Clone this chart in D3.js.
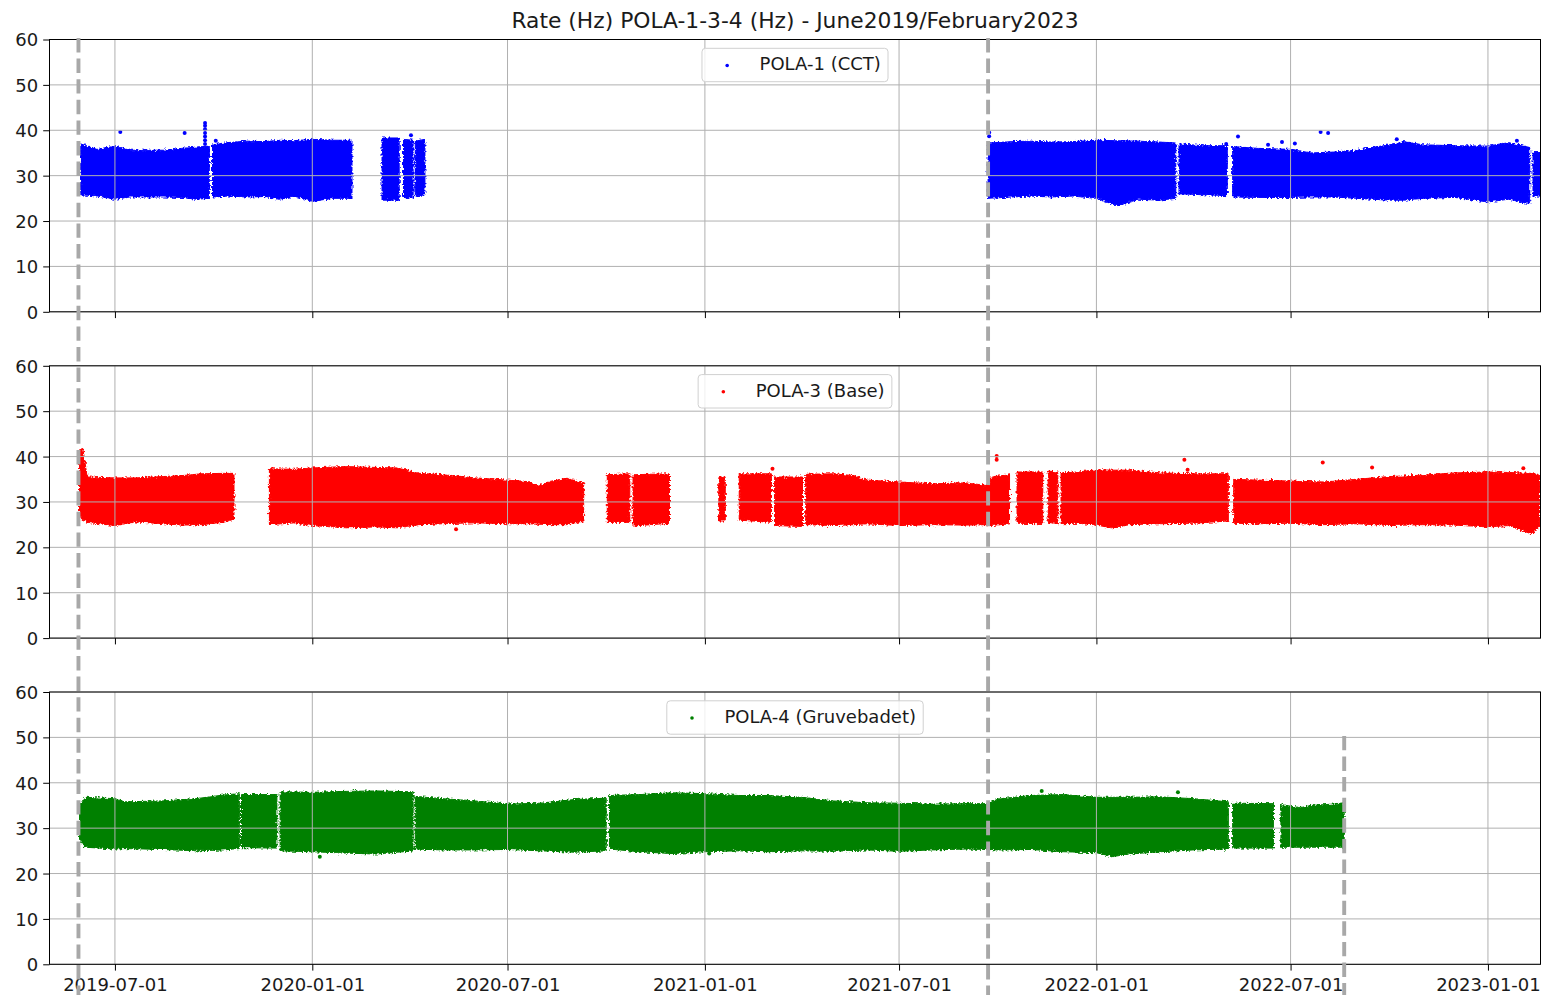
<!DOCTYPE html>
<html><head><meta charset="utf-8">
<script src="https://cdn.jsdelivr.net/npm/d3@7"></script>
<style>
body{margin:0;background:#fff}
svg{display:block;font-family:"DejaVu Sans",sans-serif}
</style>
</head><body>
<svg id="chart" width="1544" height="995"></svg>
<script>
// ---------------- DATA ----------------
const titleText = "Rate (Hz) POLA-1-3-4 (Hz) - June2019/February2023";
const xDomain = ["2019-05-01", "2023-02-19"];
const xTickLabels = ["2019-07-01","2020-01-01","2020-07-01","2021-01-01","2021-07-01","2022-01-01","2022-07-01","2023-01-01"];
const yTickLabels = [0, 10, 20, 30, 40, 50, 60];
const seriesNames = ["POLA-1 (CCT)", "POLA-3 (Base)", "POLA-4 (Gruvebadet)"];

// vertical marker dates (dashed lines)
const markerDates = ["2019-05-28", "2021-09-22", "2022-08-20"];
const markerTopPanel = [0, 0, 2];
const markerTopValue = [60, 60, 50];

// POLA-1 envelope of the dense scatter (null = no data)
const pola1Dates = ["2019-05-30","2019-06-15","2019-07-01","2019-07-15","2019-08-15","2019-09-01","2019-09-15","2019-09-27",
  "2019-09-28",
  "2019-09-30","2019-10-15","2019-11-01","2019-11-18","2019-12-01","2019-12-15","2020-01-01","2020-01-20","2020-02-07",
  "2020-02-20",
  "2020-03-06","2020-03-22",
  "2020-03-24",
  "2020-03-26","2020-04-04",
  "2020-04-05",
  "2020-04-06","2020-04-15",
  "2020-08-01",
  "2021-09-22","2021-10-15","2021-11-01","2021-11-20","2021-12-10","2022-01-01","2022-01-20","2022-02-10","2022-03-01","2022-03-16",
  "2022-03-17",
  "2022-03-19","2022-04-10","2022-05-03",
  "2022-05-05",
  "2022-05-08","2022-06-01","2022-07-01","2022-07-20","2022-08-10","2022-09-01","2022-09-15","2022-10-01","2022-10-15","2022-11-01","2022-12-01","2023-01-01","2023-01-20","2023-02-09",
  "2023-02-10",
  "2023-02-12","2023-02-19"];
const pola1High = [37,35.8,36.5,35.6,35.6,36,36.3,36.5, null,
  36.8,37.3,37.6,37.5,37.8,37.7,38,37.8,37.8, null,
  38.3,38.3, null, 38,37.8, null, 37.6,38, null,
  37.2,37.5,37.6,37.4,37.5,37.8,37.7,37.6,37.4,37.2, null,
  37,36.6,36.6, null,
  36.4,36,35.8,35,35.2,35.6,36.2,36.8,37.5,36.8,36.6,36.5,37.3,36.2, null,
  35.3,35.3];
const pola1Low = [25.8,25.5,24.8,25.3,25.3,25.2,24.8,25, null,
  25.3,25.5,25.3,25.4,24.8,25.5,24.3,25,25, null,
  24.6,24.6, null, 25.2,25, null, 25.4,25.8, null,
  25,25.3,25.5,25.3,25.5,25,23.4,24.8,24.6,25, null,
  26,25.8,25.6, null,
  25.3,25.2,25.2,25.3,25.3,25,24.8,24.6,24.6,25,25.2,24.2,24.8,23.8, null,
  25.5,25.5];
const pola1OutDates = ["2019-07-06","2019-09-04","2019-09-23","2019-09-23","2019-09-23","2019-09-23","2019-09-23","2019-09-23","2019-09-23","2019-10-03","2020-04-02",
  "2021-09-23","2021-09-23","2022-05-02","2022-05-13","2022-06-10","2022-06-23","2022-07-05","2022-07-29","2022-08-05","2022-10-08","2022-10-08","2023-01-28"];
const pola1OutValues = [39.6,39.4,37,37.8,38.6,39.4,40.2,41,41.6,37.7,38.9,
  39.5,38.7,37,38.6,36.8,37.4,37.1,39.6,39.4,38,36.6,37.7];

// POLA-3 envelope
const pola3Dates = ["2019-05-29","2019-06-01","2019-06-03","2019-06-05","2019-07-01","2019-07-20","2019-08-15","2019-09-01","2019-09-20","2019-10-10","2019-10-20",
  "2019-11-01",
  "2019-11-22","2019-12-15","2020-01-01","2020-02-01","2020-03-01","2020-03-20","2020-04-10","2020-05-01","2020-06-01","2020-07-01","2020-07-20","2020-07-30","2020-08-10","2020-08-25","2020-09-10",
  "2020-09-20",
  "2020-10-02","2020-10-23",
  "2020-10-24",
  "2020-10-26","2020-11-29",
  "2020-12-15",
  "2021-01-14","2021-01-20",
  "2021-01-25",
  "2021-02-02","2021-03-04",
  "2021-03-05",
  "2021-03-07","2021-04-02",
  "2021-04-03",
  "2021-04-05","2021-05-01","2021-05-20","2021-06-01","2021-07-01","2021-08-01","2021-09-01","2021-09-22","2021-09-25","2021-10-12",
  "2021-10-15",
  "2021-10-19","2021-11-12",
  "2021-11-15",
  "2021-11-17","2021-11-26",
  "2021-11-27",
  "2021-11-29","2021-12-15","2022-01-01","2022-01-15","2022-02-01","2022-03-01","2022-04-01","2022-05-04",
  "2022-05-06",
  "2022-05-09","2022-06-01","2022-07-01","2022-08-01","2022-09-01","2022-10-01","2022-11-01","2022-12-01","2023-01-01","2023-01-20","2023-02-10","2023-02-18"];
const pola3High = [41.5,41.8,39,35.5,35.3,35.3,35.6,35.8,36.2,36.3,36.3, null,
  37.3,37.2,37.5,37.8,37.6,37.5,36.3,36,35.3,34.8,34.5,33.5,34.5,35.2,34.2, null,
  36,36.2, null, 36,36.2, null, 35.6,35.4, null, 36.2,36.2, null, 35.5,35.5, null,
  36.1,36.2,35.8,34.8,34.4,34,34.2,33.6,35.5,36, null,
  36.6,36.6, null, 36.8,36.6, null,
  36.4,36.6,37.1,37,37,36.4,36.2,36.2, null,
  35,34.8,34.6,34.4,35,35.6,35.9,36.4,36.6,36.5,36.3,36];
const pola3Low = [27,26,25.8,25.5,24.8,25.6,25.2,24.9,25,25.5,26.2, null,
  25,25.4,24.8,24.3,24.5,24.3,25,25.2,25.4,25.2,25.2,25.1,25,25,25.8, null,
  25.5,25.5, null, 24.7,25.3, null, 25.8,25.8, null, 26,25.5, null, 24.8,24.6, null,
  25,24.8,25,25.2,24.8,25,24.9,25,24.8,25.2, null,
  25.3,25.2, null, 25.5,25.2, null,
  25.2,25.3,24.9,24.3,25,25.2,25.3,25.8, null,
  25.3,25.2,25.3,25,25.2,24.8,25,24.9,24.5,24.8,23,24.5];
const pola3OutDates = ["2020-05-14","2021-03-05","2021-09-30","2021-09-30","2022-03-24","2022-03-27","2022-07-31","2022-09-15","2023-02-03"];
const pola3OutValues = [24,37.3,40.1,39.3,39.3,37.1,38.7,37.6,37.4];

// POLA-4 envelope
const pola4Dates = ["2019-05-29","2019-06-03","2019-07-01","2019-07-10","2019-08-15","2019-09-15","2019-10-10","2019-10-25",
  "2019-10-26",
  "2019-10-27","2019-11-29",
  "2019-11-30",
  "2019-12-02","2020-01-01","2020-02-01","2020-03-01","2020-04-04",
  "2020-04-05",
  "2020-04-06","2020-05-01","2020-06-01","2020-07-01","2020-08-01","2020-09-01","2020-10-01",
  "2020-10-02",
  "2020-10-04","2020-11-01","2020-12-01","2021-01-01","2021-02-01","2021-03-01","2021-04-01","2021-05-01","2021-06-01","2021-07-01","2021-08-01","2021-09-01","2021-09-22","2021-10-01","2021-11-01","2021-12-01","2022-01-01","2022-01-15","2022-02-01","2022-03-01","2022-04-01","2022-05-04",
  "2022-05-05",
  "2022-05-08","2022-06-15",
  "2022-06-18",
  "2022-06-22","2022-07-10","2022-07-20","2022-08-10","2022-08-20"];
const pola4High = [35,36.8,36.5,35.8,36,36.5,37.3,37.6, null,
  37.4,37.4, null,
  38,37.9,38.1,38.2,38, null,
  37,36.5,36,35.3,35.5,36.3,36.6, null,
  37.2,37.4,37.8,37.6,37.2,37.2,36.8,36,35.6,35.5,35.3,35.4,35.4,36.4,37.2,37.4,36.8,36.8,36.8,36.9,36.5,35.8, null,
  35.5,35.4, null,
  35.2,34.5,35,35.3,35.6];
const pola4Low = [27.5,25.8,25.4,25.5,25.3,25,25.2,25.5, null,
  25.7,25.6, null,
  25,24.8,24.5,24.3,25, null,
  25.4,25.2,25.2,25.3,25,24.7,25, null,
  25.4,24.8,24.4,24.8,25,24.8,25,24.9,25.2,24.9,25.2,25.4,25.3,25.2,25.3,24.8,24.6,23.7,24.3,24.8,25.2,25.4, null,
  25.6,25.6, null,
  25.8,25.8,25.8,25.8,25.8];
const pola4OutDates = ["2020-01-08","2021-01-05","2021-11-11","2022-03-18"];
const pola4OutValues = [23.7,24.4,38.2,37.9];

// ---------------- DRAW ----------------
const series = [
  {name: seriesNames[0], dates: pola1Dates, hi: pola1High, lo: pola1Low, od: pola1OutDates, ov: pola1OutValues, color: "#0000ff"},
  {name: seriesNames[1], dates: pola3Dates, hi: pola3High, lo: pola3Low, od: pola3OutDates, ov: pola3OutValues, color: "#ff0000"},
  {name: seriesNames[2], dates: pola4Dates, hi: pola4High, lo: pola4Low, od: pola4OutDates, ov: pola4OutValues, color: "#008000"}
];

const svg = d3.select("#chart");
const parse = d3.utcParse("%Y-%m-%d");
const left = 49.5, right = 1540.5;
const panelTop = [39.5, 365.8, 692];
const panelH = 272.3;
const FS = 18;

// texture filter giving the dense scatter band its ragged, dotted edge
const defs = svg.append("defs");
const flt = defs.append("filter").attr("id", "rough")
  .attr("filterUnits", "userSpaceOnUse").attr("x", 0).attr("y", 0).attr("width", 1544).attr("height", 995);
flt.append("feTurbulence").attr("type", "fractalNoise").attr("baseFrequency", 0.45)
  .attr("numOctaves", 2).attr("seed", 7).attr("result", "noise");
flt.append("feDisplacementMap").attr("in", "SourceGraphic").attr("in2", "noise")
  .attr("scale", 5).attr("xChannelSelector", "R").attr("yChannelSelector", "G");

const x = d3.scaleUtc().domain(xDomain.map(parse)).range([left, right]);
const xTicks = xTickLabels.map(parse);

svg.append("text")
  .attr("x", (left + right) / 2).attr("y", 28)
  .attr("text-anchor", "middle")
  .attr("font-size", 21.8).attr("fill", "#1a1a1a")
  .text(titleText);

const yScales = [];
series.forEach((s, i) => {
  const top = panelTop[i], bottom = top + panelH;
  const y = d3.scaleLinear().domain([0, 60]).range([bottom, top]);
  yScales.push(y);
  const g = svg.append("g");

  const clipId = "clip" + i;
  defs.append("clipPath").attr("id", clipId)
    .append("rect").attr("x", left).attr("y", top).attr("width", right - left).attr("height", panelH);

  const pts = s.dates.map((d, k) => ({date: parse(d), hi: s.hi[k], lo: s.lo[k]}));
  const area = d3.area()
    .defined(d => d.hi != null && d.lo != null)
    .x(d => x(d.date)).y0(d => y(d.lo)).y1(d => y(d.hi));

  const dg = g.append("g").attr("clip-path", `url(#${clipId})`);
  dg.append("path").datum(pts)
    .attr("d", area)
    .attr("fill", s.color)
    .attr("stroke", s.color).attr("stroke-width", 1).attr("stroke-linejoin", "round")
    .attr("filter", "url(#rough)");
  dg.selectAll("circle.out").data(s.od.map((d, k) => ({date: parse(d), v: s.ov[k]})))
    .join("circle")
    .attr("cx", d => x(d.date)).attr("cy", d => y(d.v)).attr("r", 2)
    .attr("fill", s.color);

  // grid
  const grid = g.append("g");
  grid.selectAll("line.vg").data(xTicks).join("line")
    .attr("x1", d => x(d)).attr("x2", d => x(d)).attr("y1", top).attr("y2", bottom)
    .attr("stroke", "#b0b0b0").attr("stroke-width", 1);
  grid.selectAll("line.hg").data(yTickLabels).join("line")
    .attr("x1", left).attr("x2", right).attr("y1", d => y(d)).attr("y2", d => y(d))
    .attr("stroke", "#b0b0b0").attr("stroke-width", 1);

  // y axis
  const ya = g.append("g").attr("transform", `translate(${left},0)`)
    .call(d3.axisLeft(y).tickValues(yTickLabels).tickSize(6.3).tickPadding(5).tickFormat(d3.format("d")));
  ya.select(".domain").remove();
  ya.selectAll("text").attr("font-size", FS).attr("font-family", "DejaVu Sans").attr("fill", "#1a1a1a").attr("dy", "0.36em");
  ya.selectAll("line").attr("stroke", "#000").attr("stroke-width", 1);

  // x axis
  const xa = g.append("g").attr("transform", `translate(0,${bottom})`)
    .call(d3.axisBottom(x).tickValues(xTicks).tickSize(6.3).tickPadding(7.6)
      .tickFormat(i === 2 ? d3.utcFormat("%Y-%m-%d") : () => ""));
  xa.select(".domain").remove();
  xa.selectAll("text").attr("font-size", FS).attr("font-family", "DejaVu Sans").attr("fill", "#1a1a1a");
  xa.selectAll("line").attr("stroke", "#000").attr("stroke-width", 1);

  // frame
  g.append("rect").attr("x", left).attr("y", top).attr("width", right - left).attr("height", panelH)
    .attr("fill", "none").attr("stroke", "#000").attr("stroke-width", 1);

  // legend
  const lg = g.append("g");
  const txt = lg.append("text").attr("font-size", FS).attr("fill", "#1a1a1a").text(s.name);
  const tw = txt.node().getComputedTextLength();
  const bw = 7.2 + 36 + 14.4 + tw + 7.2, bh = 33.4;
  const bx = (left + right) / 2 - bw / 2, by = top + 8.8;
  lg.insert("rect", "text").attr("x", bx).attr("y", by).attr("width", bw).attr("height", bh)
    .attr("rx", 3.5).attr("fill", "#fff").attr("fill-opacity", 0.8)
    .attr("stroke", "#d0d0d0").attr("stroke-width", 1);
  lg.insert("circle", "text").attr("cx", bx + 7.2 + 18).attr("cy", by + 17.2).attr("r", 1.8).attr("fill", s.color);
  txt.attr("x", bx + 7.2 + 36 + 14.4).attr("y", by + 22);
});

// dashed marker lines
markerDates.forEach((d, k) => {
  const xp = x(parse(d));
  svg.append("line")
    .attr("x1", xp).attr("x2", xp)
    .attr("y1", yScales[markerTopPanel[k]](markerTopValue[k]) - 1.5).attr("y2", 1000)
    .attr("stroke", "#a8a8a8").attr("stroke-width", 3.9)
    .attr("stroke-dasharray", "14.4,6.2");
});
</script>
</body></html>
